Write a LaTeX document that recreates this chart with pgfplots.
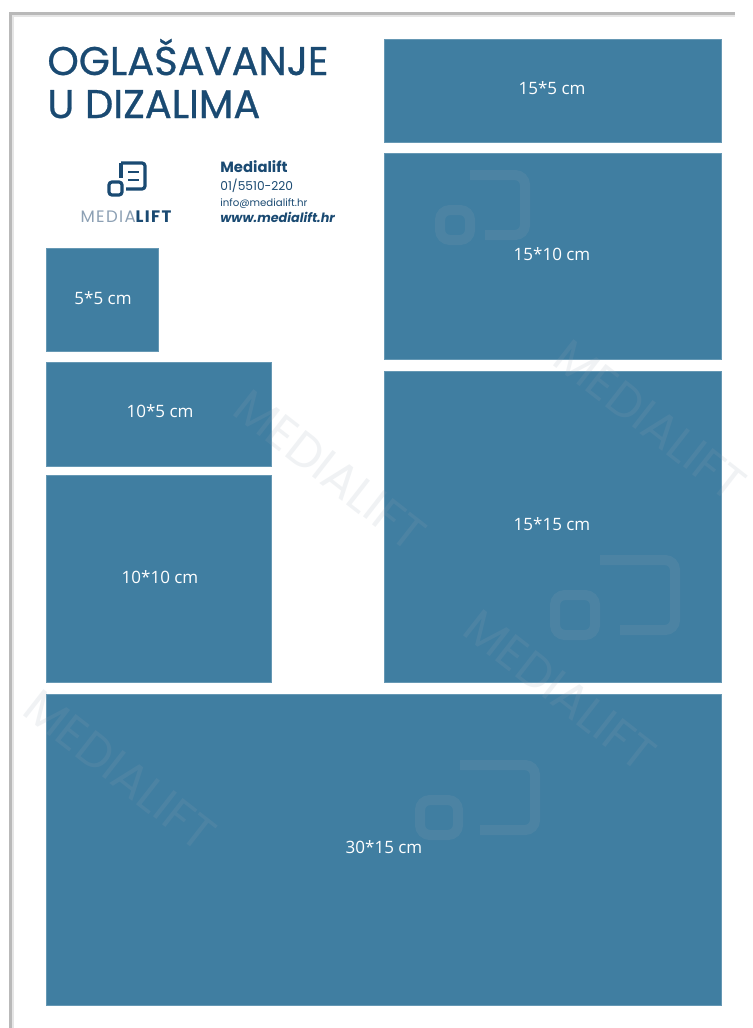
\documentclass[border=0pt]{standalone}
\usepackage{pgfplots}
\pgfplotsset{compat=1.18}
\usepackage{fontspec}
\setmainfont{Open Sans}
\newfontfamily\geo{Poppins}
\newfontfamily\geols{Poppins}[LetterSpace=8]
\newfontfamily\geob{Poppins}[FakeBold=0.7]
\definecolor{boxblue}{RGB}{64,126,161}
\definecolor{titleblue}{RGB}{26,74,114}
\definecolor{lightlogo}{RGB}{140,160,180}
\definecolor{wm}{RGB}{150,165,180}
\begin{document}
\begin{tikzpicture}
\begin{axis}[name=ax, width=376.5pt, height=514pt, scale only axis,
  xmin=0, xmax=753, ymin=0, ymax=1028, y dir=reverse,
  hide axis, clip=false]
% page background and shadow
\addplot[fill=white, draw=none] coordinates {(0,0) (753,0) (753,1028) (0,1028)} -- cycle;
\addplot[draw=gray!55, line width=1.5pt] coordinates {(10,1028) (10,13) (735,13)};
\addplot[draw=gray!20, line width=1pt] coordinates {(13,1028) (13,16) (735,16)};
% boxes (pixel coordinates of the page)
\addplot[fill=boxblue, draw=boxblue!80!white, line width=0.3pt] coordinates {(384,39) (721,39) (721,142) (384,142)} -- cycle;
\addplot[fill=boxblue, draw=boxblue!80!white, line width=0.3pt] coordinates {(384,153) (721,153) (721,359) (384,359)} -- cycle;
\addplot[fill=boxblue, draw=boxblue!80!white, line width=0.3pt] coordinates {(384,371) (721,371) (721,682) (384,682)} -- cycle;
\addplot[fill=boxblue, draw=boxblue!80!white, line width=0.3pt] coordinates {(46,248) (158,248) (158,351) (46,351)} -- cycle;
\addplot[fill=boxblue, draw=boxblue!80!white, line width=0.3pt] coordinates {(46,362) (271,362) (271,466) (46,466)} -- cycle;
\addplot[fill=boxblue, draw=boxblue!80!white, line width=0.3pt] coordinates {(46,475) (271,475) (271,682) (46,682)} -- cycle;
\addplot[fill=boxblue, draw=boxblue!80!white, line width=0.3pt] coordinates {(46,694) (721,694) (721,1005) (46,1005)} -- cycle;
% faint watermark logo icons
\begin{scope}[draw=wm, opacity=0.15, line width=5pt, rounded corners=5pt]
\draw (axis cs:470,175) -- (axis cs:525,175) -- (axis cs:525,235) -- (axis cs:485,235);
\draw (axis cs:440,210) rectangle (axis cs:470,240);
\draw (axis cs:600,560) -- (axis cs:675,560) -- (axis cs:675,630) -- (axis cs:620,630);
\draw (axis cs:555,595) rectangle (axis cs:595,635);
\draw (axis cs:460,765) -- (axis cs:535,765) -- (axis cs:535,830) -- (axis cs:480,830);
\draw (axis cs:420,800) rectangle (axis cs:458,835);
\end{scope}
% watermarks (faint)
\begin{scope}[every node/.style={text=wm, opacity=0.14, font=\geo\fontsize{24}{24}\selectfont}]
\node[rotate=-38] at (axis cs:650,420) {MEDIALIFT};
\node[rotate=-38] at (axis cs:330,470) {MEDIALIFT};
\node[rotate=-38] at (axis cs:560,690) {MEDIALIFT};
\node[rotate=-38] at (axis cs:120,770) {MEDIALIFT};
\end{scope}
% box labels
\begin{scope}[every node/.style={text=white, font=\fontsize{8.5}{10}\selectfont}]
\node at (axis cs:552,88) {15*5 cm};
\node at (axis cs:552,254) {15*10 cm};
\node at (axis cs:552,524) {15*15 cm};
\node at (axis cs:103,298) {5*5 cm};
\node at (axis cs:160,411) {10*5 cm};
\node at (axis cs:160,577) {10*10 cm};
\node at (axis cs:384,847) {30*15 cm};
\end{scope}
% title
\node[anchor=base west, text=titleblue, inner sep=0pt, font=\geob\fontsize{20}{20}\selectfont] at (axis cs:47,75) {OGLAŠAVANJE};
\node[anchor=base west, text=titleblue, inner sep=0pt, font=\geob\fontsize{20}{20}\selectfont] at (axis cs:47,118) {U DIZALIMA};
% logo icon
\draw[titleblue, line width=1.6pt, rounded corners=1.5pt] (axis cs:121,163) -- (axis cs:145,163) -- (axis cs:145,189) -- (axis cs:126,189);
\draw[titleblue, line width=1.6pt] (axis cs:121,163) -- (axis cs:121,178);
\draw[titleblue, line width=1.4pt] (axis cs:128,172) -- (axis cs:139,172);
\draw[titleblue, line width=1.4pt] (axis cs:128,180) -- (axis cs:139,180);
\draw[titleblue, line width=1.6pt, rounded corners=1.5pt, fill=white] (axis cs:109,182) rectangle (axis cs:122,195);
\node[anchor=base, inner sep=0pt, font=\geols\fontsize{8.3}{9}\selectfont] at (axis cs:126,222) {\textcolor{lightlogo}{MEDIA}\textcolor{titleblue}{\bfseries LIFT}};
% contact
\node[anchor=base west, inner sep=0pt, text=titleblue, font=\geo\bfseries\fontsize{7.4}{8}\selectfont] at (axis cs:220,172) {Medialift};
\node[anchor=base west, inner sep=0pt, text=titleblue, font=\geo\fontsize{6.1}{7}\selectfont] at (axis cs:220,190) {01/5510-220};
\node[anchor=base west, inner sep=0pt, text=titleblue, font=\geo\fontsize{5.1}{6}\selectfont] at (axis cs:220,206) {info@medialift.hr};
\node[anchor=base west, inner sep=0pt, text=titleblue, font=\geo\bfseries\itshape\fontsize{6.4}{7}\selectfont] at (axis cs:220,222) {www.medialift.hr};
\end{axis}
\pgfresetboundingbox
\path (ax.south west) rectangle (ax.north east);
\end{tikzpicture}
\end{document}
